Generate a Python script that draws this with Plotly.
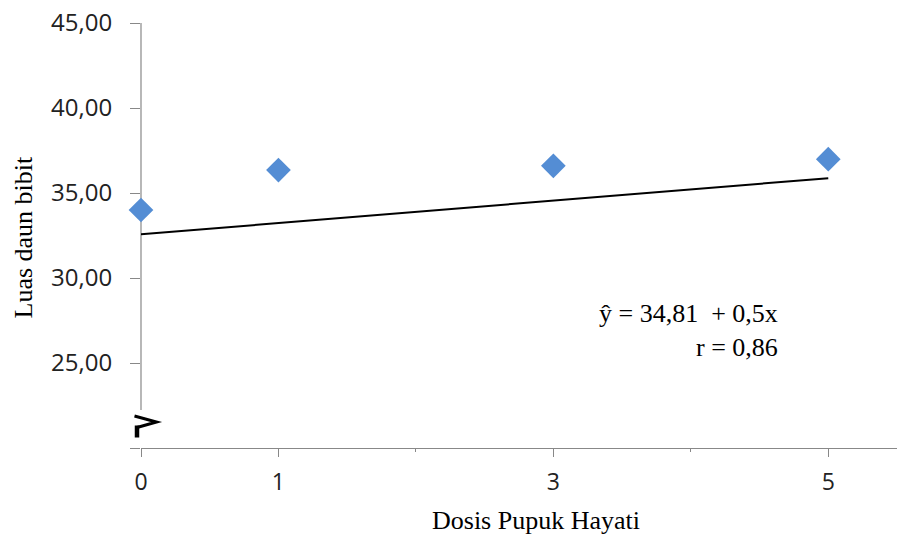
import plotly.graph_objects as go

# ---- data ----
dosis = [0, 1, 3, 5]
luas_daun = [34.0, 36.35, 36.6, 36.99]
trend_x = [0, 5]
trend_y = [32.57, 35.87]
x_tick_vals = [0, 1, 3, 5]
x_tick_text = ["0", "1", "3", "5"]
x_minor_vals = [2, 4]
y_tick_vals = [20, 25, 30, 35, 40, 45]
y_tick_text = ["", "25,00", "30,00", "35,00", "40,00", "45,00"]
eq_text = "ŷ = 34,81 &nbsp;+ 0,5x<br>r = 0,86"

SERIF = "Liberation Serif, Times New Roman, serif"
SANS = "Open Sans, Liberation Sans, sans-serif"
AXIS_COL = "#888888"

W, H = 899, 535
ml, mr, mt, mb = 141, 2, 23, 87
PW, PH = W - ml - mr, H - mt - mb


def px(sx):
    """screen x pixel -> paper coordinate"""
    return (sx - ml) / PW


def py(sy):
    """screen y pixel -> paper coordinate"""
    return (H - mb - sy) / PH


fig = go.Figure()
fig.add_trace(go.Scatter(
    x=trend_x, y=trend_y, mode="lines",
    line=dict(color="black", width=2), showlegend=False, hoverinfo="skip"))
fig.add_trace(go.Scatter(
    x=dosis, y=luas_daun, mode="markers",
    marker=dict(symbol="diamond", size=19, color="#548DD4", line=dict(width=0)),
    showlegend=False, cliponaxis=False))

# y axis line (interrupted near the bottom for the axis break)
fig.add_shape(type="line", xref="paper", yref="paper", x0=0, x1=0, y0=py(410), y1=1,
              line=dict(color=AXIS_COL, width=1.2), layer="below")
# axis-break symbol
fig.add_shape(type="path", xref="paper", yref="paper",
              path=f"M {px(134.5)},{py(416)} L {px(156.5)},{py(422)} L {px(137)},{py(427.5)}",
              line=dict(color="black", width=3))
fig.add_shape(type="line", xref="paper", yref="paper", x0=px(137), x1=px(137),
              y0=py(425.5), y1=py(437.5), line=dict(color="black", width=4.5))

fig.add_annotation(x=4.65, y=26.9, xref="x", yref="y", text=eq_text,
                   showarrow=False, xanchor="right", yanchor="middle", align="right",
                   font=dict(family=SERIF, size=26, color="black"))
fig.add_annotation(x=px(536), y=py(520.5), xref="paper", yref="paper", text="Dosis Pupuk Hayati",
                   showarrow=False, xanchor="center", yanchor="middle",
                   font=dict(family=SERIF, size=26, color="black"))
fig.add_annotation(x=px(23), y=py(237.5), xref="paper", yref="paper", text="Luas daun bibit",
                   textangle=-90, showarrow=False, xanchor="center", yanchor="middle",
                   font=dict(family=SERIF, size=26, color="black"))

fig.update_layout(
    width=W, height=H,
    margin=dict(l=ml, r=mr, t=mt, b=mb, autoexpand=False),
    paper_bgcolor="white", plot_bgcolor="white",
    xaxis=dict(range=[0, 5.5], tickmode="array", tickvals=x_tick_vals, ticktext=x_tick_text,
               automargin=False, ticklabeloverflow="allow",
               showgrid=False, zeroline=False, showline=True, linecolor=AXIS_COL, linewidth=1.2,
               ticks="outside", ticklen=8, tickcolor=AXIS_COL, tickwidth=1.2,
               tickfont=dict(family=SANS, size=23, color="#222222"), ticklabelstandoff=5,
               minor=dict(tickmode="array", tickvals=x_minor_vals, ticks="outside", ticklen=3,
                          tickcolor=AXIS_COL, tickwidth=1.2, showgrid=False)),
    yaxis=dict(range=[20, 45.0001], tickmode="array", tickvals=y_tick_vals, ticktext=y_tick_text,
               automargin=False, ticklabeloverflow="allow",
               showgrid=False, zeroline=False, showline=False,
               ticks="outside", ticklen=10, tickcolor=AXIS_COL, tickwidth=1.2,
               tickfont=dict(family=SANS, size=24, color="#222222"), ticklabelstandoff=13),
)

fig.write_html(
    "out.html",
    config={"displayModeBar": False},
    post_script="document.body.style.margin='0';document.body.style.overflow='hidden';",
)
